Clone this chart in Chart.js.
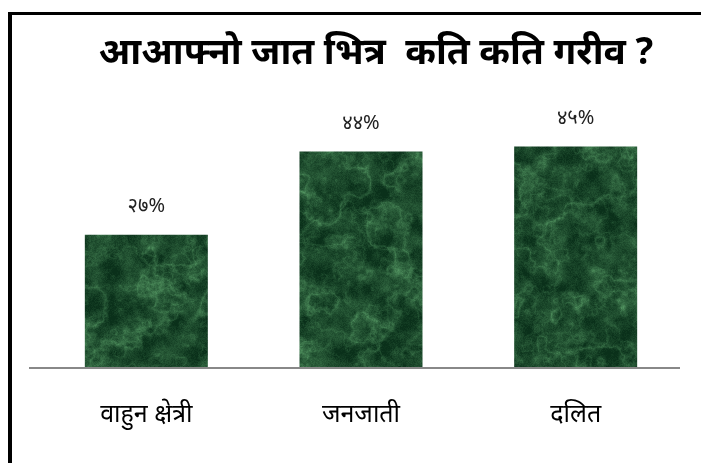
<!DOCTYPE html>
<html>
<head>
<meta charset="utf-8">
<script src="https://cdn.jsdelivr.net/npm/chart.js@4"></script>
<style>
  html, body { margin: 0; padding: 0; background: #fff; overflow: hidden; }
  #wrap { position: relative; width: 701px; height: 463px; }
  #frame { position: absolute; left: 8px; top: 12px; width: 720px; height: 480px;
           border-left: 4px solid #000; border-top: 3px solid #000; box-sizing: border-box; }
  canvas { position: absolute; left: 0; top: 0; }
</style>
</head>
<body>
<div id="wrap">
  <div id="frame"></div>
  <canvas id="c" width="701" height="463"></canvas>
</div>
<script>
const titleText = 'आआफ्नो जात भित्र  कति कति गरीव ?';
const categories = ['वाहुन क्षेत्री', 'जनजाती', 'दलित'];
const values = [27, 44, 45];
const valueLabels = ['२७%', '४४%', '४५%'];

const FONT = "'Noto Sans', 'Noto Sans Devanagari', 'Lohit Devanagari', sans-serif";

// deterministic marble texture (style only), one tile covering the whole canvas
function hash(x, y) {
  let h = Math.imul(x, 374761393) + Math.imul(y, 668265263);
  h = Math.imul(h ^ (h >>> 13), 1274126177);
  h = h ^ (h >>> 16);
  return (h >>> 0) / 4294967295;
}
function smooth(t) { return t * t * (3 - 2 * t); }
function vnoise(x, y) {
  const xi = Math.floor(x), yi = Math.floor(y);
  const xf = x - xi, yf = y - yi;
  const a = hash(xi, yi), b = hash(xi + 1, yi), c = hash(xi, yi + 1), d = hash(xi + 1, yi + 1);
  const u = smooth(xf), v = smooth(yf);
  return a + (b - a) * u + (c - a) * v + (a - b - c + d) * u * v;
}
function fbm(x, y) {
  let s = 0, amp = 0.5, f = 1;
  for (let i = 0; i < 5; i++) { s += amp * vnoise(x * f, y * f); f *= 2; amp *= 0.5; }
  return s;
}
function makeMarble() {
  const W = 701, H = 463;
  const cv = document.createElement('canvas');
  cv.width = W; cv.height = H;
  const g = cv.getContext('2d');
  const img = g.createImageData(W, H);
  for (let y = 100; y < 380; y++) {
    for (let x = 60; x < 660; x++) {
      const n = fbm(x / 30, y / 30);
      const n2 = fbm(x / 12 + 40, y / 12 + 17);
      const cloud = fbm(x / 16 + 90, y / 16 + 5);
      const vein = 1 - Math.abs(Math.sin((x * 0.025 + y * 0.018) + n * 8));
      const vein2 = 1 - Math.abs(Math.sin((x * 0.012 - y * 0.03) + n2 * 6));
      let t = 0.16 + 0.3 * Math.pow(vein, 2.5) + 0.18 * Math.pow(vein2, 2.5)
            + (cloud - 0.5) * 0.6 + (hash(x + 7, y + 3) - 0.5) * 0.14;
      t = Math.max(0, Math.min(1, t));
      const r = 10 + t * 90, gg = 48 + t * 125, b = 26 + t * 88;
      const i = (y * W + x) * 4;
      img.data[i] = r; img.data[i + 1] = gg; img.data[i + 2] = b; img.data[i + 3] = 255;
    }
  }
  g.putImageData(img, 0, 0);
  return g.createPattern(cv, 'no-repeat');
}
const marble = makeMarble();

const titlePlugin = {
  id: 'customTitle',
  afterDraw(chart) {
    const ctx = chart.ctx;
    ctx.save();
    ctx.font = "bold 37px " + FONT;
    ctx.fillStyle = '#000';
    ctx.textAlign = 'center';
    ctx.textBaseline = 'middle';
    ctx.fillText(titleText, 376, 53);
    ctx.restore();
  }
};
const labelPlugin = {
  id: 'valueLabels',
  afterDatasetsDraw(chart) {
    const ctx = chart.ctx;
    const meta = chart.getDatasetMeta(0);
    ctx.save();
    ctx.font = "20px " + FONT;
    ctx.fillStyle = '#222';
    ctx.textAlign = 'center';
    ctx.textBaseline = 'middle';
    meta.data.forEach((bar, i) => {
      ctx.fillText(valueLabels[i], bar.x, bar.y - 28);
    });
    ctx.restore();
  }
};
const baselinePlugin = {
  id: 'baseline',
  afterDatasetsDraw(chart) {
    const ctx = chart.ctx;
    const a = chart.chartArea;
    const yb = chart.scales.y.getPixelForValue(0);
    ctx.save();
    ctx.strokeStyle = '#888';
    ctx.lineWidth = 2;
    ctx.beginPath();
    ctx.moveTo(a.left - 10, yb + 1);
    ctx.lineTo(a.right - 3, yb + 1);
    ctx.stroke();
    ctx.restore();
  }
};

new Chart(document.getElementById('c'), {
  type: 'bar',
  data: {
    labels: categories,
    datasets: [{
      data: values,
      backgroundColor: marble,
      borderWidth: 0,
      barPercentage: 0.573,
      categoryPercentage: 1
    }]
  },
  options: {
    responsive: false,
    animation: false,
    events: [],
    layout: { padding: { left: 39, right: 18, top: 122, bottom: 0 } },
    plugins: { legend: { display: false }, tooltip: { enabled: false }, title: { display: false } },
    scales: {
      x: {
        grid: { display: false, drawTicks: false },
        border: { display: false },
        ticks: { color: '#000', font: { family: FONT, size: 25 }, padding: 33 },
        afterFit(scale) { scale.height = 96; }
      },
      y: { display: false, min: 0, max: 50 }
    }
  },
  plugins: [titlePlugin, labelPlugin, baselinePlugin]
});
</script>
</body>
</html>
